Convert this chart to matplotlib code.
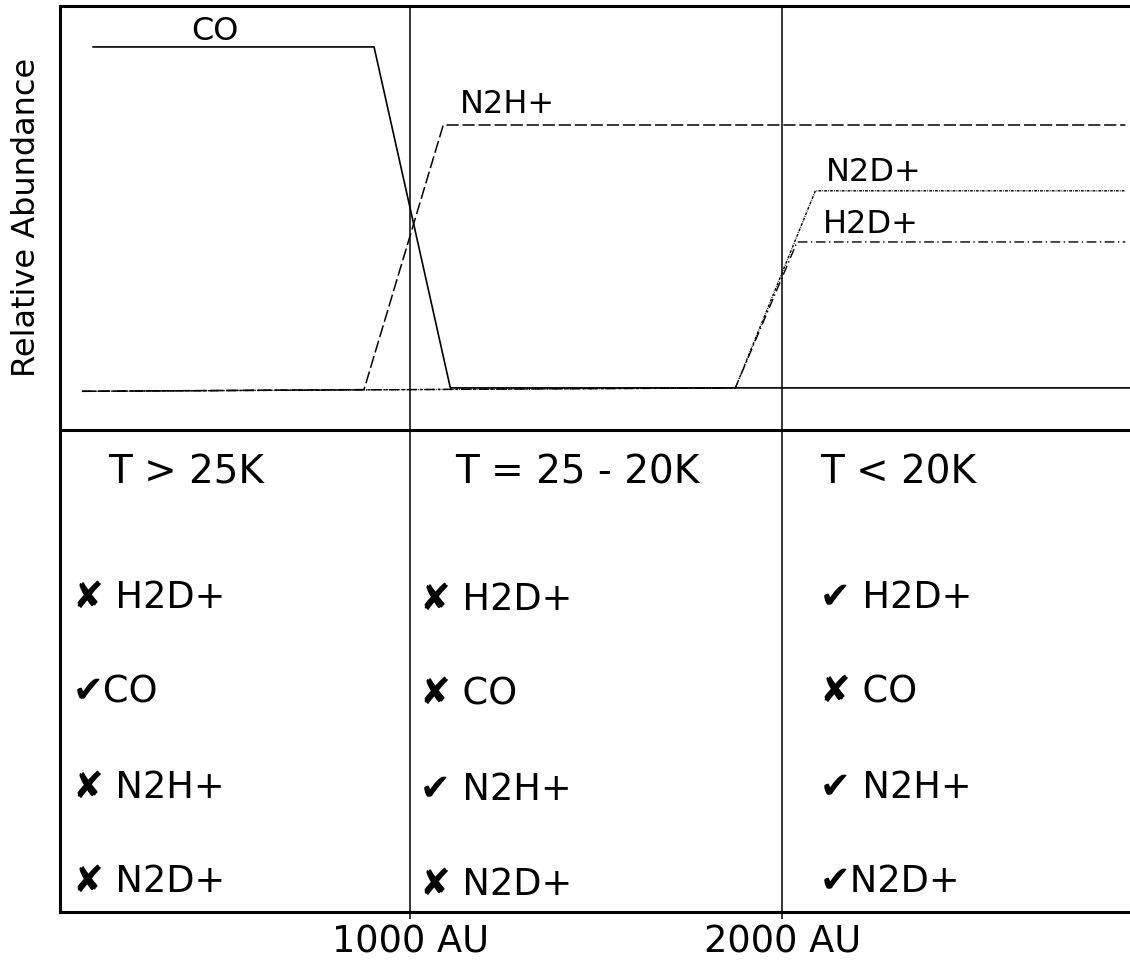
import matplotlib
matplotlib.use("Agg")
import matplotlib.pyplot as plt

# --- data (x in AU, y in relative abundance units) ---
co_x = [148, 903, 1108, 2935]
co_y = [1.0, 1.0, 0.0, 0.0]
n2h_x = [118, 876, 1089, 2922]
n2h_y = [-0.01, -0.005, 0.771, 0.771]
n2d_x = [118, 1874, 2089, 2922]
n2d_y = [-0.01, 0.0, 0.578, 0.578]
h2d_x = [118, 1874, 2040, 2922]
h2d_y = [-0.01, 0.0, 0.428, 0.428]

tick_pos = [1000, 2000]
tick_labels = ["1000 AU", "2000 AU"]

regions = ["T > 25K", "T = 25 - 20K", "T < 20K"]
region_x = [188, 1121, 2102]
items = [
    ["\u2718 H2D+", "\u2714CO", "\u2718 N2H+", "\u2718 N2D+"],
    ["\u2718 H2D+", "\u2718 CO", "\u2714 N2H+", "\u2718 N2D+"],
    ["\u2714 H2D+", "\u2718 CO", "\u2714 N2H+", "\u2714N2D+"],
]
items_x = [94, 1027, 2102]
col_shift = [0.0, -0.006, 0.0]
row_y = [-0.616, -0.891, -1.173, -1.449]

fig = plt.figure(figsize=(11.3, 9.67), dpi=100)
ax = fig.add_axes([60/1130, 55/967, 1075/1130, 906/967])

ax.plot(co_x, co_y, color='black', lw=1.2)
ax.plot(n2h_x, n2h_y, color='black', lw=1.1, dashes=(8, 2.5))
ax.plot(n2d_x, n2d_y, color='black', lw=1.0, dashes=(2, 0.8, 0.6, 0.8))
ax.plot(h2d_x, h2d_y, color='black', lw=1.0, dashes=(7, 2.5, 1, 2.5))

ax.text(476, 1.044, "CO", fontsize=23, ha='center', va='center')
ax.text(1134, 0.83, "N2H+", fontsize=23, va='center')
ax.text(2116, 0.633, "N2D+", fontsize=23, va='center')
ax.text(2108, 0.478, "H2D+", fontsize=23, va='center')

for xv in tick_pos:
    ax.axvline(xv, color='black', lw=1.1)
ax.axhline(-0.123, color='black', lw=2.2)

for i in range(3):
    ax.text(region_x[i], -0.249, regions[i], fontsize=28, va='center')
    for j in range(4):
        ax.text(items_x[i], row_y[j] + col_shift[i], items[i][j],
                fontsize=26.5, va='center')

ax.set_xlim(59, 2948)
ax.set_ylim(-1.537, 1.12)
ax.set_xticks(tick_pos)
ax.set_xticklabels(tick_labels, fontsize=26.5)
ax.set_yticks([])
ax.tick_params(axis='x', length=5, width=1.1, pad=3)
ax.text(-0.031, 0.767, "Relative Abundance", fontsize=23, rotation=90,
        ha='center', va='center', transform=ax.transAxes)
for s in ['left', 'bottom', 'top']:
    ax.spines[s].set_linewidth(2.2)
ax.spines['right'].set_visible(False)

fig.savefig("out.png", dpi=100)
